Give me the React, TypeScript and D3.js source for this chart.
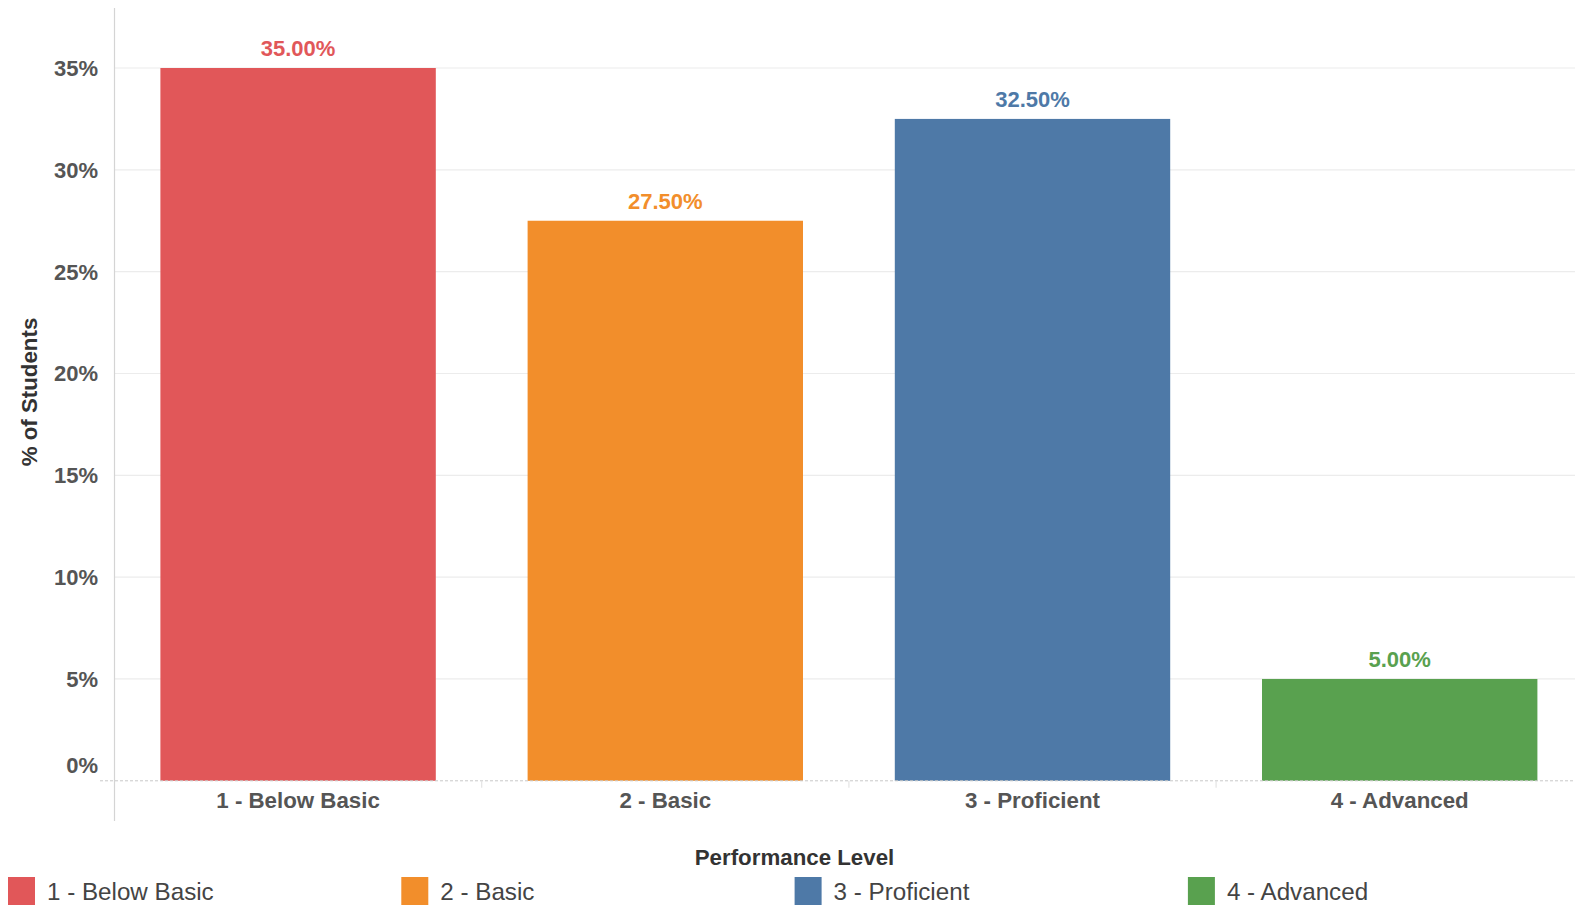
import React from "react";
import * as d3 from "d3";

const categories = ["1 - Below Basic", "2 - Basic", "3 - Proficient", "4 - Advanced"];
const values = [0.35, 0.275, 0.325, 0.05];
const colors = ["#E15759", "#F28E2B", "#4E79A7", "#59A14F"];
const yTicks = [0, 0.05, 0.1, 0.15, 0.2, 0.25, 0.3, 0.35];

const W = 1575;
const H = 905;
const FONT = "'Liberation Sans', Arial, Helvetica, sans-serif";

export default function App() {
  const x = d3.scaleBand<string>().domain(categories).range([114.5, 1583.3]).paddingInner(0.25).paddingOuter(0.125);
  const y = d3.scaleLinear().domain([0, 0.35]).range([780.8, 68]);
  const pct = d3.format(".0%");
  const pct2 = d3.format(".2%");
  const step = x.step();
  const x0 = 114.5;

  return (
    <svg width={W} height={H} style={{ position: "absolute", left: 0, top: 0, background: "#fff" }} fontFamily={FONT}>
      {/* gridlines */}
      {yTicks.filter((t) => t > 0).map((t) => (
        <line key={"g" + t} x1={x0} x2={W} y1={y(t)} y2={y(t)} stroke="#ececec" strokeWidth={1.2} />
      ))}
      {/* bars */}
      {categories.map((c, i) => (
        <rect key={c} x={x(c)} y={y(values[i])} width={x.bandwidth()} height={y(0) - y(values[i])} fill={colors[i]} />
      ))}
      {/* baseline dashed */}
      <line x1={100} x2={W} y1={y(0)} y2={y(0)} stroke="#c8c8c8" strokeWidth={1} strokeDasharray="3,2" />
      {/* separators */}
      {categories.slice(1).map((c, i) => (
        <line key={"s" + c} x1={x0 + step * (i + 1)} x2={x0 + step * (i + 1)} y1={y(0)} y2={y(0) + 7} stroke="#e4e4e4" strokeWidth={1.2} />
      ))}
      {/* y axis line */}
      <line x1={x0} x2={x0} y1={8} y2={821} stroke="#d4d4d4" strokeWidth={1.2} />
      {/* y tick labels */}
      {yTicks.map((t) => (
        <text key={"t" + t} x={98} y={t === 0 ? y(t) - 16 : y(t)} dy="0.36em" textAnchor="end" fontSize={22} fontWeight="bold" fill="#555">
          {pct(t)}
        </text>
      ))}
      {/* value labels */}
      {categories.map((c, i) => (
        <text key={"v" + c} x={(x(c) as number) + x.bandwidth() / 2} y={y(values[i]) - 12} textAnchor="middle" fontSize={22} fontWeight="bold" fill={colors[i]}>
          {pct2(values[i])}
        </text>
      ))}
      {/* category labels */}
      {categories.map((c) => (
        <text key={"c" + c} x={(x(c) as number) + x.bandwidth() / 2} y={799.5} dy="0.36em" textAnchor="middle" fontSize={22.3} fontWeight="bold" fill="#555">
          {c}
        </text>
      ))}
      {/* axis titles */}
      <text x={794.5} y={857} dy="0.36em" textAnchor="middle" fontSize={22.3} fontWeight="bold" fill="#333">
        Performance Level
      </text>
      <text transform={`translate(29,392) rotate(-90)`} dy="0.36em" textAnchor="middle" fontSize={22.3} fontWeight="bold" fill="#333">
        % of Students
      </text>
      {/* legend */}
      {categories.map((c, i) => (
        <g key={"l" + c} transform={`translate(${8 + i * 393.3},0)`}>
          <rect x={0} y={877} width={27} height={28} fill={colors[i]} />
          <text x={39} y={891} dy="0.36em" fontSize={24.2} fill="#444">
            {c}
          </text>
        </g>
      ))}
    </svg>
  );
}
